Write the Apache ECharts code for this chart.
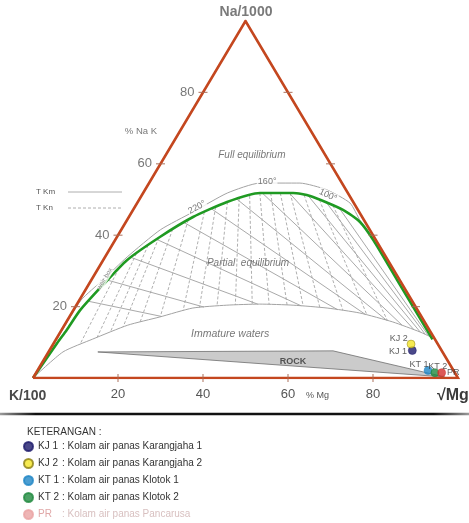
<!DOCTYPE html>
<html>
<head>
<meta charset="utf-8">
<script src="https://cdn.jsdelivr.net/npm/echarts@6/dist/echarts.min.js"></script>
<style>
  html, body { margin: 0; padding: 0; background: #fff; }
  #chart { width: 469px; height: 523px; }
</style>
</head>
<body>
<div id="chart"></div>
<script>
// ternary points are [Na %, Mg %], K = 100 - Na - Mg
const fullEquilibrium = [[0, 0], [9.8, 0.8], [13.4, 1.2], [19.0, 1.6], [26.0, 3.4], [33.0, 5.6], [39.5, 10.1], [45.1, 15.1], [49.3, 21.0], [51.8, 27.5], [51.8, 35.3], [51.0, 39.7], [47.1, 49.4], [43.7, 55.1], [38.5, 60.9], [27.5, 71.9], [17.1, 82.3], [10.8, 88.6]];
const upperCurve = [[0, 0], [10.5, 0.2], [21.8, 0.4], [27.4, 2.7], [33.9, 5.2], [41.5, 9.2], [46.5, 14.4], [51.8, 19.8], [54.6, 26.1], [54.6, 35.5], [52.7, 42.8], [49.0, 50.1], [44.0, 55.0], [38.2, 61.2], [27.8, 71.6]];
const partialEquilibrium = [[0, 0], [7.3, 3.4], [10.9, 8.6], [14.8, 14.9], [17.1, 21.3], [19.6, 27.8], [20.4, 35.4], [20.7, 43.0], [20.4, 51.0], [19.6, 59.4], [18.2, 67.8], [15.7, 76.8], [12.9, 84.6], [11.6, 87.6]];
const rockZone = [[7.3, 11.6], [7.6, 66.8], [0.3, 96.7], [7.3, 11.6]];

// isolines: Na/(Na+K) % for the solid set, Mg/(K+Mg) % for the dashed set
const tkmRatios = [22, 28.5, 36, 43, 50.5, 58, 65, 72, 79, 84, 88.5, 92];
const tknRatios = [7, 10.6, 13.5, 16.4, 20.6, 25.8, 31.9, 36.5, 41.6, 47, 52, 57, 62.3, 67, 71.8, 78.3, 84.7, 89.8];

const naTicks = [20, 40, 60, 80];
const mgTicks = [20, 40, 60, 80];

const sampleNames = ['KJ 1', 'KJ 2', 'KT 1', 'KT 2', 'PR'];
const sampleNa = [7.7, 9.5, 2.1, 1.5, 1.5];
const sampleMg = [85.4, 84.2, 91.9, 93.8, 95.4];
const sampleDesc = [
  'Kolam air panas Karangjaha 1',
  'Kolam air panas Karangjaha 2',
  'Kolam air panas Klotok 1',
  'Kolam air panas Klotok 2',
  'Kolam air panas Pancarusa'
];
const sampleColors = ['#1d1a6b', '#f4e526', '#1f86c6', '#1f8a3e', '#d3302c'];

const FONT = 'Liberation Sans, Arial, sans-serif';
const EDGE = '#c4471f';

// ternary -> plot coords (x along K-Mg base, y = Na height)
function XY(p) {
  return [p[1] + p[0] / 2, p[0]];
}

const greenXY = fullEquilibrium.map(XY);
const lowerXY = partialEquilibrium.map(XY);

function rayHits(o, d, curve) {
  const ts = [];
  for (let i = 0; i < curve.length - 1; i++) {
    const a = curve[i], b = curve[i + 1];
    const ex = b[0] - a[0], ey = b[1] - a[1];
    const den = d[0] * ey - d[1] * ex;
    if (Math.abs(den) < 1e-9) continue;
    const wx = a[0] - o[0], wy = a[1] - o[1];
    const t = (wx * ey - wy * ex) / den;
    const s = (wx * d[1] - wy * d[0]) / den;
    if (t > 1e-6 && s >= 0 && s <= 1) ts.push(t);
  }
  return ts.sort((p, q) => p - q);
}

function at(o, d, t) {
  return [o[0] + d[0] * t, o[1] + d[1] * t];
}

// solid lines radiate from the Mg corner
const solidSegs = [];
tkmRatios.forEach(function (r) {
  const o = [100, 0], d = [r / 2 - 100, r];
  const tl = rayHits(o, d, lowerXY)[0];
  if (tl === undefined) return;
  const tg = rayHits(o, d, greenXY).find(t => t > tl);
  if (tg === undefined) return;
  solidSegs.push({ coords: [at(o, d, tl), at(o, d, tg)] });
});

// dashed lines radiate from the Na corner
const dashedSegs = [];
tknRatios.forEach(function (b) {
  const o = [50, 100], d = [b - 50, -100];
  const tg = rayHits(o, d, greenXY)[0];
  if (tg === undefined) return;
  const tl = rayHits(o, d, lowerXY).find(t => t > tg);
  if (tl === undefined) return;
  dashedSegs.push({ coords: [at(o, d, tg), at(o, d, tl)] });
});

function textItem(value, name, extra) {
  return Object.assign({ value: value, name: name }, extra || {});
}

const sampleSeries = sampleNames.map(function (name, i) {
  const lbl = [
    { position: 'left', distance: 1, offset: [0, 1] },
    { position: 'left', distance: 1, offset: [2, -6] },
    { position: 'top', distance: 0, offset: [-9, 3] },
    { position: 'top', distance: 0, offset: [3, 3] },
    { position: 'right', distance: 1, offset: [0, 0] }
  ][i];
  return {
    name: name,
    type: 'scatter',
    z: 8,
    symbolSize: 8,
    itemStyle: { color: sampleColors[i], borderColor: i === 1 ? '#8a7d10' : sampleColors[i], borderWidth: 0.6 },
    label: Object.assign({ show: true, formatter: name, fontSize: 9, color: '#333', fontFamily: FONT }, lbl),
    data: [XY([sampleNa[i], sampleMg[i]])]
  };
});

const chart = echarts.init(document.getElementById('chart'));

const option = {
  animation: false,
  backgroundColor: '#fff',
  grid: { left: 33, right: 11, top: 21, bottom: 145, outerBoundsMode: 'none' },
  xAxis: {
    type: 'value', min: 0, max: 100, interval: 20,
    axisLine: { show: false }, axisTick: { show: false }, splitLine: { show: false },
    axisLabel: {
      margin: 10, fontSize: 13, color: '#555', fontFamily: FONT,
      formatter: v => (v > 0 && v < 100 ? String(v) : '')
    }
  },
  yAxis: { type: 'value', min: 0, max: 100, show: false },
  legend: {
    orient: 'vertical', left: 23, top: 441, padding: 0, itemWidth: 9, itemHeight: 9, itemGap: 6,
    icon: 'circle', selectedMode: false,
    data: sampleNames.map((n, i) => (i === 4 ? { name: n, itemStyle: { color: '#eaa3a3', borderColor: '#eaa3a3' } } : { name: n })),
    formatter: function (name) {
      const i = sampleNames.indexOf(name);
      const k = i === 4 ? 'f' : 'n';
      return '{' + k + '|' + name + '}{' + (i === 4 ? 'fd' : 'd') + '|: ' + sampleDesc[i] + '}';
    },
    textStyle: {
      fontFamily: FONT,
      rich: {
        n: { fontSize: 10, color: '#333', width: 24, lineHeight: 12 },
        d: { fontSize: 10, color: '#333', lineHeight: 12 },
        f: { fontSize: 10, color: '#e0a8a8', width: 24, lineHeight: 12 },
        fd: { fontSize: 10, color: '#d8c0c0', lineHeight: 12 }
      }
    }
  },
  graphic: [
    { type: 'text', x: 246, y: 12, style: { text: 'Na/1000', align: 'center', verticalAlign: 'middle', fontSize: 14, fontWeight: 'bold', fontFamily: FONT, fill: '#7a7a7a' } },
    { type: 'text', x: 9, y: 396, style: { text: 'K/100', align: 'left', verticalAlign: 'middle', fontSize: 14, fontWeight: 'bold', fontFamily: FONT, fill: '#4a4a4a' } },
    { type: 'text', x: 437, y: 396, style: { text: '\u221AMg', align: 'left', verticalAlign: 'middle', fontSize: 16, fontWeight: 'bold', fontFamily: FONT, fill: '#3a3a3a' } },
    { type: 'text', x: 306, y: 396, style: { text: '% Mg', align: 'left', verticalAlign: 'middle', fontSize: 9, fontFamily: FONT, fill: '#555' } },
    { type: 'text', x: 36, y: 192, style: { text: 'T Km', verticalAlign: 'middle', fontSize: 8, fontFamily: FONT, fill: '#555' } },
    { type: 'line', shape: { x1: 68, y1: 192, x2: 122, y2: 192 }, style: { stroke: '#999', lineWidth: 0.8 } },
    { type: 'text', x: 36, y: 208, style: { text: 'T Kn', verticalAlign: 'middle', fontSize: 8, fontFamily: FONT, fill: '#555' } },
    { type: 'line', shape: { x1: 68, y1: 208, x2: 122, y2: 208 }, style: { stroke: '#999', lineWidth: 0.8, lineDash: [3, 2] } },
    {
      type: 'line', shape: { x1: 0, y1: 414, x2: 469, y2: 414 },
      style: {
        lineWidth: 2.5,
        stroke: new echarts.graphic.LinearGradient(0, 0, 1, 0, [
          { offset: 0, color: 'rgba(0,0,0,0.35)' },
          { offset: 0.08, color: '#111' },
          { offset: 0.92, color: '#111' },
          { offset: 1, color: 'rgba(0,0,0,0.35)' }
        ])
      }
    },
    { type: 'text', x: 27, y: 432, style: { text: 'KETERANGAN :', verticalAlign: 'middle', fontSize: 10, fontFamily: FONT, fill: '#333' } }
  ],
  series: [
    {
      type: 'lines', coordinateSystem: 'cartesian2d', z: 1, silent: true,
      lineStyle: { color: '#9f9f9f', width: 0.9, opacity: 1 },
      data: solidSegs
    },
    {
      type: 'lines', coordinateSystem: 'cartesian2d', z: 1, silent: true,
      lineStyle: { color: '#a6a6a6', width: 0.9, type: [3, 2], opacity: 1 },
      data: dashedSegs
    },
    {
      type: 'line', z: 2, symbol: 'none', smooth: 0.2, silent: true,
      lineStyle: { color: '#a3a3a3', width: 1 },
      data: upperCurve.map(XY)
    },
    {
      type: 'line', z: 2, symbol: 'none', smooth: 0.2, silent: true,
      lineStyle: { color: '#a3a3a3', width: 1 },
      data: lowerXY
    },
    {
      type: 'custom', coordinateSystem: 'cartesian2d', z: 3, silent: true,
      data: [XY(rockZone[0])],
      renderItem: function (params, api) {
        return {
          type: 'polygon',
          shape: { points: rockZone.map(p => api.coord(XY(p))) },
          style: { fill: '#cbcbcb', stroke: '#6f6f6f', lineWidth: 0.8 }
        };
      }
    },
    {
      type: 'line', z: 4, symbol: 'none', smooth: 0.2, silent: true,
      lineStyle: { color: '#1f9a22', width: 2.6 },
      data: greenXY
    },
    {
      type: 'line', z: 5, symbol: 'none', silent: true,
      lineStyle: { color: EDGE, width: 2.6, join: 'miter' },
      data: [XY([0, 0]), XY([0, 100]), XY([100, 0]), XY([0, 0])]
    },
    {
      // ticks on the two sloping sides
      type: 'scatter', z: 6, silent: true, symbol: 'rect', symbolSize: [9, 1.2],
      itemStyle: { color: '#a86a55' },
      data: naTicks.map(n => XY([n, 0])).concat(naTicks.map(n => XY([n, 100 - n])))
    },
    {
      type: 'scatter', z: 6, silent: true, symbol: 'rect', symbolSize: [1.2, 8],
      itemStyle: { color: '#a86a55' },
      data: mgTicks.map(m => XY([0, m]))
    },
    {
      // % Na labels on the left side
      type: 'scatter', z: 6, silent: true, symbolSize: 9, symbol: 'rect',
      itemStyle: { color: 'rgba(0,0,0,0)' },
      label: { show: true, position: 'left', distance: 4, formatter: '{b}', fontSize: 13, color: '#555', fontFamily: FONT },
      data: naTicks.map(n => textItem(XY([n, 0]), String(n)))
    },
    {
      // region and curve texts
      type: 'scatter', z: 7, silent: true, symbolSize: 0,
      label: { show: true, position: 'inside', formatter: '{b}', fontFamily: FONT, color: '#555', fontSize: 10, fontStyle: 'italic' },
      data: [
        textItem([51.5, 62.5], 'Full equilibrium'),
        textItem([50.6, 32.2], 'Partial  equilibrium'),
        textItem([46.4, 12.3], 'Immature waters', { label: { fontSize: 10.5 } }),
        textItem([61.2, 4.5], 'ROCK', { label: { fontStyle: 'normal', fontWeight: 'bold', fontSize: 9, color: '#333' } }),
        textItem([25.4, 69.2], '% Na K', { label: { fontStyle: 'normal', fontSize: 9.5 } }),
        textItem([55.1, 55.0], '160°', { label: { fontStyle: 'normal', fontSize: 9, backgroundColor: '#fff', padding: [0, 1] } }),
        textItem([38.6, 47.8], '220°', { label: { fontStyle: 'normal', fontSize: 9, rotate: 28, backgroundColor: '#fff', padding: [0, 1] } }),
        textItem([69.4, 51.2], '100°', { label: { fontStyle: 'normal', fontSize: 9, rotate: -25, backgroundColor: '#fff', padding: [0, 1] } }),
        textItem([16.9, 27.8], 'weir box', { label: { fontStyle: 'normal', fontSize: 6.5, rotate: 58, backgroundColor: '#fff', color: '#666' } })
      ]
    }
  ].concat(sampleSeries)
};

chart.setOption(option);
</script>
</body>
</html>
